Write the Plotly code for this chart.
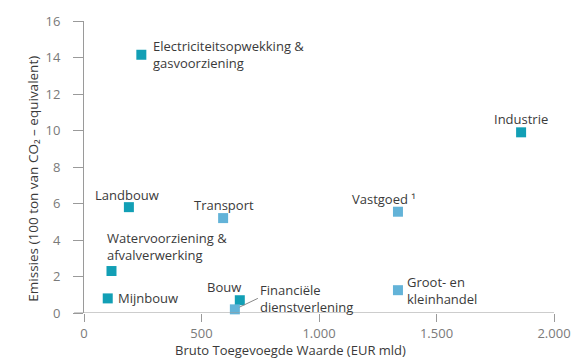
import plotly.graph_objects as go

# ---- data ----
sectors = ["Electriciteitsopwekking &<br>gasvoorziening", "Industrie", "Vastgoed ¹",
           "Groot- en<br>kleinhandel", "Transport", "Bouw", "Financiële<br>dienstverlening",
           "Landbouw", "Watervoorziening &<br>afvalverwerking", "Mijnbouw"]
bruto_waarde = [244, 1860, 1336, 1336, 592, 663, 642, 191, 117, 101]
emissies = [14.15, 9.9, 5.55, 1.25, 5.2, 0.7, 0.2, 5.8, 2.3, 0.8]
group = ["dark", "dark", "light", "light", "light", "dark", "light", "dark", "dark", "dark"]

x_ticks = [0, 500, 1000, 1500, 2000]
x_ticklabels = ["0", "500", "1.000", "1.500", "2.000"]
y_ticks = [0, 2, 4, 6, 8, 10, 12, 14, 16]
x_title = "Bruto Toegevoegde Waarde (EUR mld)"
y_title = "Emissies (100 ton van CO₂ – equivalent)"

# ---- styles ----
COLORS = {"dark": "#129fb5", "light": "#63b3d8"}
FONT = "Open Sans"
TXT = "#3a3a3a"
TICK_TXT = "#7a7a7a"
AX = "#9a9a9a"
FS = 13
# label placement per sector: (xanchor, yanchor, xshift, yshift)
LABEL_STYLE = {
    0: ("left", "middle", 10, 0),
    1: ("center", "middle", 0, 13),
    2: ("right", "middle", 20, 13),
    3: ("left", "middle", 7, 0),
    4: ("center", "middle", 1, 13),
    5: ("center", "middle", -16, 13),
    7: ("center", "middle", -2, 12),
    8: ("left", "bottom", -6, 5),
    9: ("left", "middle", 8, 0),
}

W, H = 583, 359
ML, MR, MT, MB = 84, 26, 18, 46
PW, PH = W - ML - MR, H - MT - MB

fig = go.Figure()
fig.add_trace(go.Scatter(
    x=bruto_waarde, y=emissies, mode="markers",
    marker=dict(symbol="square", size=10, color=[COLORS[g] for g in group], line=dict(width=0)),
    cliponaxis=False, hoverinfo="text", hovertext=sectors, showlegend=False,
))

annotations = []
for i, (name, xv, yv) in enumerate(zip(sectors, bruto_waarde, emissies)):
    if i in LABEL_STYLE:
        xa, ya, xs, ys = LABEL_STYLE[i]
        annotations.append(dict(x=xv, y=yv, text=name, showarrow=False, xanchor=xa, yanchor=ya,
                                xshift=xs, yshift=ys, align="left",
                                font=dict(family=FONT, size=FS, color=TXT)))
    else:
        annotations.append(dict(x=xv, y=yv, text=name, showarrow=True, arrowhead=0,
                                arrowwidth=1, arrowcolor="#888", ax=23, ay=-11,
                                xanchor="left", yanchor="middle", align="left", standoff=5,
                                font=dict(family=FONT, size=FS, color=TXT)))

# axis titles, centred on the whole figure as in the reference
annotations.append(dict(xref="paper", yref="paper", x=(W / 2 - ML) / PW, y=-(350 - (MT + PH)) / PH,
                        text=x_title, showarrow=False, xanchor="center", yanchor="middle",
                        borderpad=0,
                        font=dict(family=FONT, size=FS, color=TXT)))
annotations.append(dict(xref="paper", yref="paper", x=(33 - ML) / PW, y=((MT + PH) - 177) / PH,
                        text=y_title, showarrow=False, textangle=-90,
                        xanchor="center", yanchor="middle",
                        font=dict(family=FONT, size=13.5, color=TXT)))

fig.update_layout(
    width=W, height=H,
    margin=dict(l=ML, r=MR, t=MT, b=MB),
    paper_bgcolor="white", plot_bgcolor="white",
    font=dict(family=FONT, color=TXT),
    annotations=annotations,
    shapes=[dict(type="line", xref="paper", yref="y", x0=-10 / PW, x1=1, y0=0, y1=0,
                 line=dict(color=AX, width=1))],
    xaxis=dict(range=[0, 2000], tickvals=x_ticks, ticktext=x_ticklabels,
               showgrid=False, zeroline=False, showline=False,
               ticks="outside", ticklen=8, tickcolor=AX, tickwidth=1,
               ticklabelstandoff=0,
               tickfont=dict(family=FONT, size=FS, color=TICK_TXT)),
    yaxis=dict(range=[0, 16], tickvals=y_ticks,
               showgrid=False, zeroline=False, showline=True, linecolor=AX, linewidth=1,
               ticks="outside", ticklen=10, tickcolor=AX, tickwidth=1,
               ticklabelstandoff=10,
               tickfont=dict(family=FONT, size=FS, color=TICK_TXT)),
)

fig.write_html("out.html")
